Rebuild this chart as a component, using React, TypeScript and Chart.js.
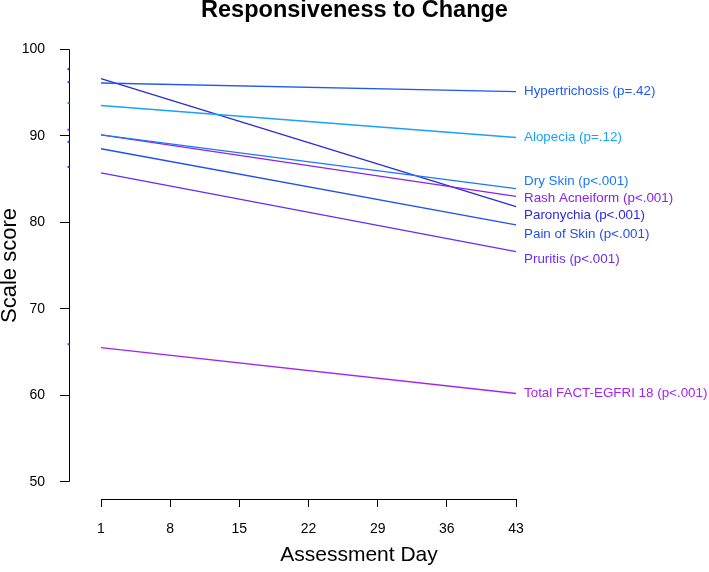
import React, { useEffect, useRef } from "react";
import { Chart, registerables } from "chart.js";

Chart.register(...registerables);

const days = [1, 43];
const seriesLabels = [
  "Hypertrichosis (p=.42)",
  "Alopecia (p=.12)",
  "Dry Skin (p<.001)",
  "Rash Acneiform (p<.001)",
  "Paronychia (p<.001)",
  "Pain of Skin (p<.001)",
  "Pruritis (p<.001)",
  "Total FACT-EGFRI 18 (p<.001)",
];
const day1Scores = [96.1, 93.5, 90.1, 90.1, 96.6, 88.5, 85.7, 65.5];
const day43Scores = [95.1, 89.8, 83.9, 83.0, 81.8, 79.7, 76.6, 60.2];
const labelScores = [95.18, 89.83, 84.69, 82.77, 80.76, 78.65, 75.76, 60.27];
const seriesColors = [
  "#1F5AF5",
  "#19A2FA",
  "#1C78F8",
  "#8A22EE",
  "#2A2ADB",
  "#2250F0",
  "#6A2CF0",
  "#A424EE",
];
const xTicks = [1, 8, 15, 22, 29, 36, 43];
const yTicks = [50, 60, 70, 80, 90, 100];
const axisRugScores = [97.7, 96.2, 93.8, 90.7, 89.3, 86.4, 65.9];
const axisRugColors = ["#2A2ADB", "#1F5AF5", "#19A2FA", "#8A22EE", "#2250F0", "#6A2CF0", "#A424EE"];

const FONT = "'Liberation Sans', Arial, Helvetica, sans-serif";

const decorPlugin = {
  id: "decor",
  afterDraw(chart: any) {
    const { ctx, chartArea } = chart;
    const xs = chart.scales.x;
    const ys = chart.scales.y;
    ctx.save();
    ctx.strokeStyle = "#000";
    ctx.lineWidth = 1;
    ctx.beginPath();
    const ax = Math.round(chartArea.left) + 0.5;
    ctx.moveTo(ax, ys.getPixelForValue(yTicks[0]));
    ctx.lineTo(ax, ys.getPixelForValue(yTicks[yTicks.length - 1]));
    const ay = Math.round(chartArea.bottom) + 0.5;
    ctx.moveTo(xs.getPixelForValue(xTicks[0]), ay);
    ctx.lineTo(xs.getPixelForValue(xTicks[xTicks.length - 1]), ay);
    ctx.stroke();
    axisRugScores.forEach((v, i) => {
      ctx.fillStyle = axisRugColors[i];
      ctx.fillRect(chartArea.left - 1.5, ys.getPixelForValue(v) - 1, 2, 2);
    });
    ctx.font = `13.4px ${FONT}`;
    ctx.textBaseline = "middle";
    ctx.textAlign = "left";
    const lx = xs.getPixelForValue(days[1]) + 8;
    seriesLabels.forEach((t, i) => {
      ctx.fillStyle = seriesColors[i];
      ctx.fillText(t, lx, ys.getPixelForValue(labelScores[i]));
    });
    ctx.restore();
  },
};

export default function App() {
  const ref = useRef<HTMLCanvasElement>(null);
  useEffect(() => {
    if (!ref.current) return;
    Chart.defaults.font.family = FONT;
    const chart = new Chart(ref.current, {
      type: "line",
      data: {
        datasets: seriesLabels.map((lbl, i) => ({
          label: lbl,
          data: days.map((d, j) => ({ x: d, y: j === 0 ? day1Scores[i] : day43Scores[i] })),
          borderColor: seriesColors[i],
          backgroundColor: seriesColors[i],
          borderWidth: 1.3,
          pointRadius: 0,
          fill: false,
          yAxisID: "y",
          xAxisID: "x",
        })),
      },
      options: {
        responsive: false,
        animation: false,
        layout: { padding: 0 },
        plugins: {
          legend: { display: false },
          tooltip: { enabled: false },
          title: {
            display: true,
            text: "Responsiveness to Change",
            color: "#000",
            font: { size: 23.5, weight: "bold", family: FONT, lineHeight: 1 },
            padding: { top: -1, bottom: 9.5 },
          },
        },
        scales: {
          x: {
            type: "linear",
            min: -2.2386,
            max: 56.4602,
            afterBuildTicks: (s: any) => {
              s.ticks = xTicks.map((v) => ({ value: v }));
            },
            afterFit: (s: any) => {
              s.height = 73;
            },
            grid: {
              display: true,
              drawOnChartArea: false,
              drawTicks: true,
              tickLength: 8,
              color: "#000",
              lineWidth: 1,
            },
            border: { display: false },
            ticks: {
              color: "#000",
              font: { size: 14, family: FONT },
              padding: 14,
              maxRotation: 0,
              autoSkip: false,
              callback: (v: any) => String(v),
            },
            title: {
              display: true,
              text: "Assessment Day",
              color: "#000",
              font: { size: 21, family: FONT, lineHeight: 1.2 },
              padding: { top: 0, bottom: 4 },
            },
          },
          y: {
            type: "linear",
            position: "left",
            min: 48,
            max: 102,
            afterBuildTicks: (s: any) => {
              s.ticks = yTicks.map((v) => ({ value: v }));
            },
            afterFit: (s: any) => {
              s.width = 69;
            },
            grid: {
              display: true,
              drawOnChartArea: false,
              drawTicks: true,
              tickLength: 9,
              color: "#000",
              lineWidth: 1,
            },
            border: { display: false },
            ticks: {
              color: "#000",
              font: { size: 14, family: FONT },
              padding: 15,
              autoSkip: false,
              callback: (v: any) => String(v),
            },
            title: {
              display: true,
              text: "Scale score",
              color: "#000",
              font: { size: 22, family: FONT, lineHeight: 0.92 },
              padding: { top: 0, bottom: 0 },
            },
          },
          spacer: {
            type: "linear",
            position: "right",
            display: true,
            min: 0,
            max: 1,
            afterFit: (s: any) => {
              s.width = 60;
            },
            grid: { display: false, drawTicks: false },
            border: { display: false },
            ticks: { display: false },
            title: { display: false },
          },
        },
      },
      plugins: [decorPlugin],
    });
    return () => chart.destroy();
  }, []);
  return (
    <div style={{ position: "absolute", left: 0, top: 0, width: 709, height: 572, background: "#fff" }}>
      <canvas ref={ref} width={709} height={572} style={{ display: "block" }} />
    </div>
  );
}
